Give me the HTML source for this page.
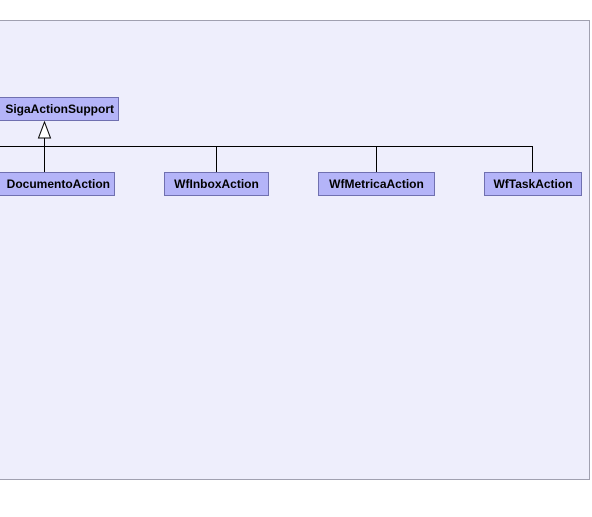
<!DOCTYPE html>
<html><head><style>
body{margin:0;width:592px;height:517px;background:#fff;position:relative;overflow:hidden;font-family:"Liberation Sans",sans-serif}
.p{position:absolute;left:-1px;top:20px;width:589px;height:458px;background:#eeeefc;border:1px solid #a0a0b0}
.b{position:absolute;height:22px;background:#b4b4f8;border:1px solid #7070b0;font-weight:bold;font-size:12px;line-height:22px;text-align:center;box-sizing:content-box;white-space:nowrap;overflow:hidden}
</style></head><body>
<div class="p"></div>
<svg width="592" height="517" style="position:absolute;left:0;top:0">
<g stroke="#000" stroke-width="1" fill="none">
<line x1="0" y1="146.5" x2="532.5" y2="146.5"/>
<line x1="44.5" y1="138" x2="44.5" y2="172"/>
<line x1="216.5" y1="146" x2="216.5" y2="172"/>
<line x1="376.5" y1="146" x2="376.5" y2="172"/>
<line x1="532.5" y1="146" x2="532.5" y2="172"/>
<polygon points="44.5,122 38.5,138 50.5,138" fill="#fff"/>
</g></svg>
<div class="b" style="left:-12px;top:97px;width:129px;text-align:right;text-indent:0"><span style="position:absolute;right:4px">SigaActionSupport</span></div>
<div class="b" style="left:-12px;top:172px;width:125px"><span style="position:absolute;right:4px">DocumentoAction</span></div>
<div class="b" style="left:164px;top:172px;width:103px">WfInboxAction</div>
<div class="b" style="left:318px;top:172px;width:115px">WfMetricaAction</div>
<div class="b" style="left:484px;top:172px;width:96px">WfTaskAction</div>
</body></html>
